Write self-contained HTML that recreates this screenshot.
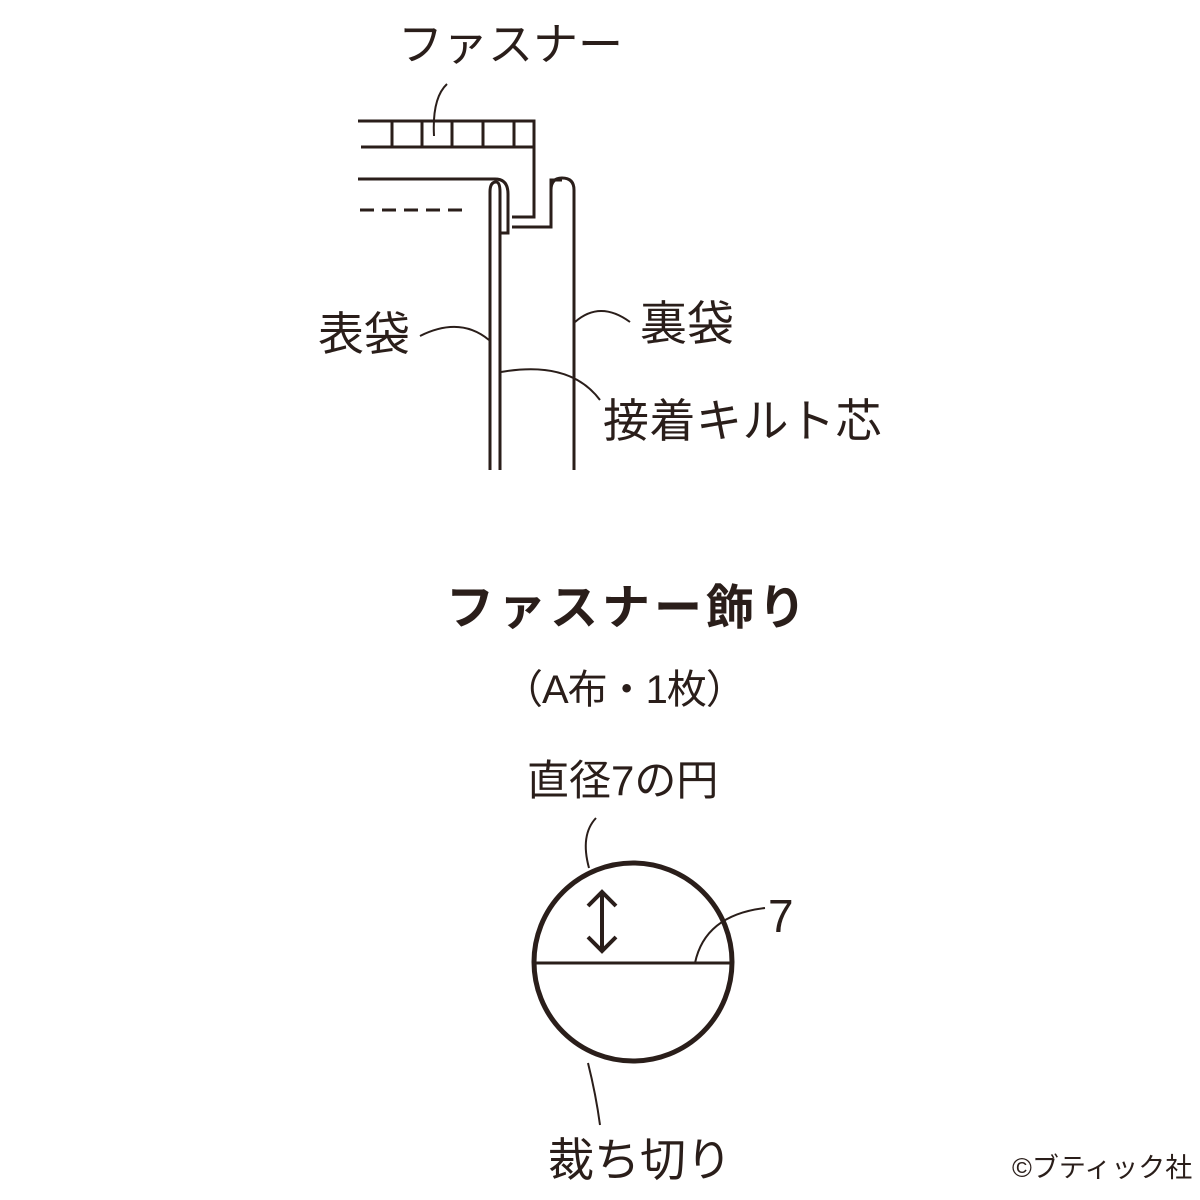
<!DOCTYPE html>
<html><head><meta charset="utf-8"><style>
html,body{margin:0;padding:0;background:#fff;}
svg{display:block}
text{font-family:"Liberation Sans","Noto Sans CJK JP",sans-serif;fill:#2a1e1a;}
</style></head><body>
<svg width="1200" height="1200" viewBox="0 0 1200 1200" xmlns="http://www.w3.org/2000/svg">
<g fill="none" stroke="#2a1e1a" stroke-width="3">
<path d="M358 121 H534 V217 H512"/>
<path d="M361 147 H534"/>
<path d="M392 121V147 M422 121V147 M452 121V147 M483 121V147 M514 121V147"/>
<path d="M358 179 H495 Q508 179 508 194 V233 H500"/>
<path d="M490 470 V192 Q490 182 496 182 Q500 182 500 192 V470"/>
<path d="M512 227 H551 V180 H562"/>
<path d="M551 190 Q551 178 562 178 Q574 178 574 190 V470"/>
<path d="M360 210 H470" stroke-dasharray="14 8"/>
<path d="M434 136 Q432 98 447 84" stroke-width="2"/>
<path d="M420 336 Q460 316 489 340" stroke-width="2"/>
<path d="M575 322 Q600 300 630 322" stroke-width="2"/>
<path d="M501 372 Q570 360 600 400" stroke-width="2"/>
<circle cx="633" cy="962" r="99" stroke-width="5"/>
<path d="M535 963 H731" stroke-width="3"/>
<path d="M602 893 V950 M588 906 L602 892 L616 906 M588 937 L602 951 L616 937" stroke-width="4"/>
<path d="M589 868 Q580 835 596 818" stroke-width="2"/>
<path d="M695 963 Q705 915 765 908" stroke-width="2"/>
<path d="M588 1063 Q596 1095 600 1125" stroke-width="2"/>
</g>
<text x="398" y="60" font-size="45">ファスナー</text>
<text x="318" y="350" font-size="46">表袋</text>
<text x="640" y="340" font-size="47">裏袋</text>
<text x="603" y="437" font-size="46" letter-spacing="0.5">接着キルト芯</text>
<text x="446" y="624" font-size="48" font-weight="bold" letter-spacing="4">ファスナー飾り</text>
<text x="503" y="703" font-size="40" letter-spacing="-1">（A布・1枚）</text>
<text x="527" y="795" font-size="42">直径7の円</text>
<text x="768" y="932" font-size="46">7</text>
<text x="548" y="1176" font-size="46">裁ち切り</text>
<text x="1012" y="1177" font-size="27">©ブティック社</text>
</svg>
</body></html>
